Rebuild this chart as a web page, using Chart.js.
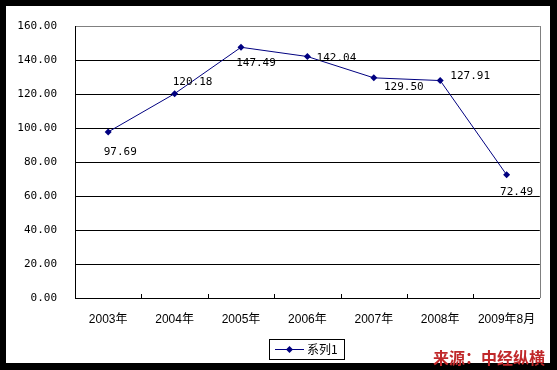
<!DOCTYPE html>
<html>
<head>
<meta charset="utf-8">
<script src="https://cdn.jsdelivr.net/npm/chart.js@4/dist/chart.umd.min.js"></script>
<style>
  html, body { margin: 0; padding: 0; background: #000; }
  #frame { position: relative; width: 557px; height: 370px; background: #000; }
  #box { position: absolute; left: 6px; top: 6px; width: 544px; height: 357px; background: #fff; }
  #source { position: absolute; left: 433px; top: 348px; color: #c0282a; font: bold 16px "Noto Sans CJK SC", sans-serif; line-height: 18px; white-space: nowrap; }
</style>
</head>
<body>
<div id="frame">
  <div id="box"><canvas id="chart" width="544" height="357"></canvas></div>
  <div id="source">来源：中经纵横</div>
</div>
<script>
const categories = ["2003年", "2004年", "2005年", "2006年", "2007年", "2008年", "2009年8月"];
const seriesName = "系列1";
const values = [97.69, 120.18, 147.49, 142.04, 129.50, 127.91, 72.49];
const yTicks = [0, 20, 40, 60, 80, 100, 120, 140, 160];

// where each value label sits relative to its point (dx, dy)
const labelOffsets = [[12, 20], [18, -12], [15, 16], [29, 2], [30, 9], [30, -4], [10, 17]];

const navy = "#000080";
const monoFont = '11px "DejaVu Sans Mono", monospace';

const extras = {
  id: "extras",
  afterDraw(chart) {
    const ctx = chart.ctx;
    const area = chart.chartArea;
    const x = chart.scales.x;
    ctx.save();

    // gray right border of plot area
    ctx.strokeStyle = "#808080";
    ctx.lineWidth = 1;
    ctx.beginPath();
    ctx.moveTo(Math.round(area.right) + 0.5, area.top);
    ctx.lineTo(Math.round(area.right) + 0.5, area.bottom);
    ctx.stroke();

    // inner tick marks on the category axis
    ctx.strokeStyle = "#000";
    const band = x.getPixelForValue(1) - x.getPixelForValue(0);
    const by = Math.round(area.bottom);
    for (let i = 1; i < categories.length; i++) {
      const px = Math.round(x.getPixelForValue(i) - band / 2) + 0.5;
      ctx.beginPath();
      ctx.moveTo(px, by - 4);
      ctx.lineTo(px, by);
      ctx.stroke();
    }

    // value labels
    const meta = chart.getDatasetMeta(0);
    ctx.font = monoFont;
    ctx.fillStyle = "#000";
    ctx.textAlign = "center";
    ctx.textBaseline = "middle";
    meta.data.forEach((pt, i) => {
      const off = labelOffsets[i];
      ctx.fillText(values[i].toFixed(2), pt.x + off[0], pt.y + off[1]);
    });

    // legend box
    const lx = 263, ly = 333, lw = 75, lh = 20;
    ctx.strokeStyle = "#000";
    ctx.strokeRect(lx + 0.5, ly + 0.5, lw, lh);
    const my = ly + 10.5;
    ctx.strokeStyle = navy;
    ctx.beginPath();
    ctx.moveTo(lx + 6, my);
    ctx.lineTo(lx + 35, my);
    ctx.stroke();
    ctx.fillStyle = navy;
    ctx.beginPath();
    ctx.moveTo(lx + 20.5, my - 3.5);
    ctx.lineTo(lx + 24, my);
    ctx.lineTo(lx + 20.5, my + 3.5);
    ctx.lineTo(lx + 17, my);
    ctx.closePath();
    ctx.fill();
    ctx.fillStyle = "#000";
    ctx.font = '12px "Noto Sans CJK SC", sans-serif';
    ctx.textAlign = "left";
    ctx.fillText(seriesName, lx + 38, my);
    ctx.restore();
  }
};

new Chart(document.getElementById("chart"), {
  type: "line",
  data: {
    labels: categories,
    datasets: [{
      label: seriesName,
      data: values,
      borderColor: navy,
      borderWidth: 1,
      backgroundColor: navy,
      pointStyle: "rectRot",
      pointRadius: 3.5,
      pointBorderWidth: 0,
      tension: 0,
      fill: false
    }]
  },
  options: {
    responsive: false,
    animation: false,
    events: [],
    layout: { padding: { left: 0, right: 10, top: 20, bottom: 0 } },
    plugins: { legend: { display: false }, tooltip: { enabled: false } },
    scales: {
      x: {
        offset: true,
        grid: { display: false, drawTicks: false },
        border: { color: "#000", width: 1 },
        ticks: {
          padding: 14,
          color: "#000",
          maxRotation: 0,
          autoSkip: false,
          font: { family: '"Liberation Sans", "Noto Sans CJK SC", sans-serif', size: 12 }
        },
        afterFit(scale) { scale.height = 65; }
      },
      y: {
        min: 0,
        max: 160,
        afterBuildTicks(scale) { scale.ticks = yTicks.map(v => ({ value: v })); },
        grid: {
          drawTicks: false,
          color: ctx => (ctx.tick && ctx.tick.value === 160 ? "#808080" : "#000"),
          lineWidth: 1
        },
        border: { color: "#000", width: 1 },
        ticks: {
          padding: 18,
          color: "#000",
          font: { family: '"DejaVu Sans Mono", monospace', size: 11 },
          callback: v => Number(v).toFixed(2)
        },
        afterFit(scale) {
          scale.width = 69;
          scale.paddingTop = 0;
          scale.paddingBottom = 0;
        }
      }
    }
  },
  plugins: [extras]
});
</script>
</body>
</html>
